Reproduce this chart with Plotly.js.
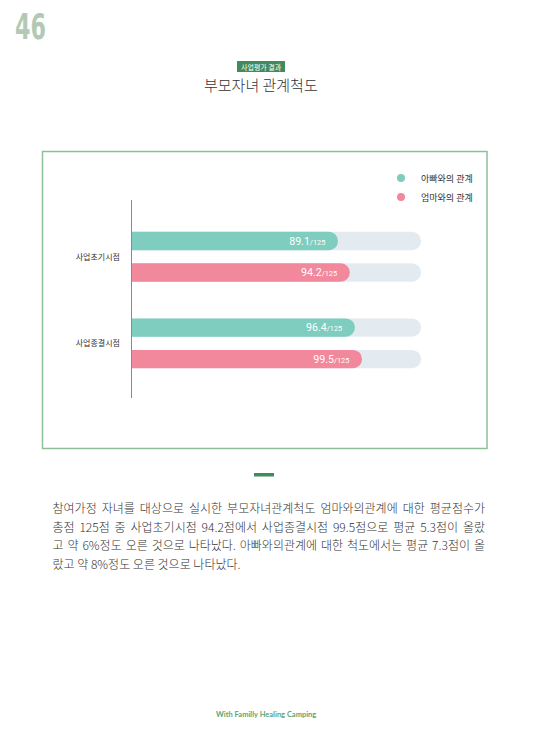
<!DOCTYPE html>
<html>
<head>
<meta charset="utf-8">
<script src="https://cdn.plot.ly/plotly-3.0.1.min.js"></script>
<style>
  html, body { margin: 0; padding: 0; background: #ffffff; }
  #chart { width: 533px; height: 746px; }
</style>
</head>
<body>
<div id="chart"></div>
<script>
// ---- data ----
const categories = ['사업초기시점', '사업종결시점'];
const seriesNames = ['아빠와의 관계', '엄마와의 관계'];
const dadValues = [89.1, 96.4];
const momValues = [94.2, 99.5];
const maxScore = 125;
const pageNumber = '46';
const sectionLabel = '사업평가 결과';
const chartTitle = '부모자녀 관계척도';
const paragraphLines = [
  '참여가정 자녀를 대상으로 실시한 부모자녀관계척도 엄마와의관계에 대한 평균점수가',
  '총점 125점 중 사업초기시점 94.2점에서 사업종결시점 99.5점으로 평균 5.3점이 올랐',
  '고 약 6%정도 오른 것으로 나타났다. 아빠와의관계에 대한 척도에서는 평균 7.3점이 올',
  '랐고 약 8%정도 오른 것으로 나타났다.'
];
const footerText = 'With Familly Healing Camping';

// ---- styling / geometry ----
const W = 533, H = 746, L = 132, R = 421, T = 200, B = 398;
function px(x) { return (x - L) / (R - L); }
function py(y) { return (B - y) / (B - T); }

const dadColor = '#7fcdbe', momColor = '#f2889b', trackColor = '#e3ebf1';
const green = '#3f8b5c';
const KR = '"Noto Sans CJK KR", "Noto Sans", sans-serif';
const barWidth = 0.211;
const dadOffset = -0.287, momOffset = 0.077;
const pad = 6; // hidden lead-in so the left rounded corners fall outside the plot clip

function labelText(v) {
  return v.toFixed(1) + '<span style="font-size:9px">/' + maxScore + '\u00a0\u00a0</span>';
}

const traces = [
  { type: 'bar', orientation: 'h', y: categories, x: categories.map(() => maxScore + pad), base: -pad,
    offset: dadOffset, width: barWidth, marker: { color: trackColor, cornerradius: '50%' },
    showlegend: false, hoverinfo: 'skip' },
  { type: 'bar', orientation: 'h', y: categories, x: categories.map(() => maxScore + pad), base: -pad,
    offset: momOffset, width: barWidth, marker: { color: trackColor, cornerradius: '50%' },
    showlegend: false, hoverinfo: 'skip' },
  { type: 'bar', orientation: 'h', y: categories, x: dadValues.map(v => v + pad), base: -pad,
    offset: dadOffset, width: barWidth, name: seriesNames[0],
    marker: { color: dadColor, cornerradius: '50%' },
    text: dadValues.map(labelText), textposition: 'inside', insidetextanchor: 'end',
    constraintext: 'none', textangle: 0,
    insidetextfont: { color: '#ffffff', size: 13, family: 'Roboto, sans-serif' },
    showlegend: false, hovertemplate: '%{y}: %{customdata}<extra></extra>', customdata: dadValues },
  { type: 'bar', orientation: 'h', y: categories, x: momValues.map(v => v + pad), base: -pad,
    offset: momOffset, width: barWidth, name: seriesNames[1],
    marker: { color: momColor, cornerradius: '50%' },
    text: momValues.map(labelText), textposition: 'inside', insidetextanchor: 'end',
    constraintext: 'none', textangle: 0,
    insidetextfont: { color: '#ffffff', size: 13, family: 'Roboto, sans-serif' },
    showlegend: false, hovertemplate: '%{y}: %{customdata}<extra></extra>', customdata: momValues },
  // legend entries (circle markers)
  { type: 'scatter', mode: 'markers', x: [null], y: [null], name: seriesNames[0],
    marker: { color: dadColor, size: 8, symbol: 'circle' }, hoverinfo: 'skip' },
  { type: 'scatter', mode: 'markers', x: [null], y: [null], name: seriesNames[1],
    marker: { color: momColor, size: 8, symbol: 'circle' }, hoverinfo: 'skip' }
];

const annotations = [
  { text: pageNumber, x: px(13), y: py(27), xanchor: 'left', yanchor: 'middle',
    font: { family: '"DejaVu Sans", sans-serif', size: 35, color: '#b3c9b6', weight: 'bold' } },
  { text: sectionLabel, x: px(261), y: py(66.5), xanchor: 'center', yanchor: 'middle',
    font: { family: KR, size: 7, color: '#ffffff' } },
  { text: chartTitle, x: px(260.5), y: py(85), xanchor: 'center', yanchor: 'middle',
    font: { family: KR, size: 15, color: '#333333', weight: 300 } },
  { text: footerText, x: px(265.5), y: py(714), xanchor: 'center', yanchor: 'middle',
    font: { family: 'Lato, "Open Sans", sans-serif', size: 7.5, color: '#5ea574', weight: 'bold' } }
];
const firstParaIndex = annotations.length;
const lineYs = [507, 526, 544.5, 563];
paragraphLines.forEach((t, i) => {
  annotations.push({ text: t, x: px(51), y: py(lineYs[i]), xanchor: 'left', yanchor: 'middle',
    font: { family: KR, size: 12, color: '#333333', weight: 300 } });
});
annotations.forEach(a => { a.xref = 'paper'; a.yref = 'paper'; a.showarrow = false; });

const shapes = [
  { type: 'rect', xref: 'paper', yref: 'paper', x0: px(42.5), x1: px(487), y0: py(151.5), y1: py(448.5),
    line: { color: '#8dbf9b', width: 1.5 }, fillcolor: 'rgba(0,0,0,0)', layer: 'below' },
  { type: 'rect', xref: 'paper', yref: 'paper', x0: px(237), x1: px(285), y0: py(61), y1: py(72),
    line: { width: 0 }, fillcolor: green, layer: 'below' },
  { type: 'rect', xref: 'paper', yref: 'paper', x0: px(254), x1: px(274), y0: py(473), y1: py(476.5),
    line: { width: 0 }, fillcolor: green, layer: 'below' }
];

const layout = {
  width: W, height: H,
  margin: { l: L, r: W - R, t: T, b: H - B, pad: 0 },
  paper_bgcolor: '#ffffff', plot_bgcolor: 'rgba(0,0,0,0)',
  barmode: 'overlay',
  font: { family: KR, color: '#333333' },
  xaxis: { range: [0, maxScore], visible: false, fixedrange: true },
  yaxis: { type: 'category', categoryarray: categories, range: [1.632, -0.655],
    showline: true, linecolor: '#8a8a8a', linewidth: 1.5, showgrid: false, zeroline: false,
    ticks: '', ticklabelstandoff: 9, tickfont: { family: KR, size: 8, color: '#333333' }, fixedrange: true },
  showlegend: true,
  legend: { x: px(381), y: py(163.5), xanchor: 'left', yanchor: 'top', bgcolor: 'rgba(0,0,0,0)',
    font: { family: KR, size: 9, color: '#333333' }, traceorder: 'normal' },
  annotations: annotations,
  shapes: shapes
};

Plotly.newPlot('chart', traces, layout, { displayModeBar: false, staticPlot: true }).then(gd => {
  // condense the page number horizontally to match the narrow display face
  const t = gd.querySelector('.annotation[data-index="0"] text');
  if (t) {
    const bb = t.getBBox();
    const target = 31;
    if (bb.width > target) {
      const s = target / bb.width;
      t.setAttribute('transform', 'translate(' + bb.x + ',0) scale(' + s + ',1) translate(' + (-bb.x) + ',0)');
    }
  }
  // justify the first three paragraph lines between the text margins (as in the source layout)
  const leftEdge = 52.5, rightEdge = 485;
  const hostLeft = gd.getBoundingClientRect().left;
  for (let i = 0; i < paragraphLines.length; i++) {
    const el = gd.querySelector('.annotation[data-index="' + (firstParaIndex + i) + '"] text');
    if (!el) continue;
    if (i < 3) {
      const w0 = el.getBoundingClientRect().width;
      const spaces = (paragraphLines[i].match(/ /g) || []).length;
      const extra = (rightEdge - leftEdge) - w0;
      if (spaces > 0 && extra > 0) el.style.wordSpacing = (extra / spaces) + 'px';
    }
    const r = el.getBoundingClientRect();
    const dx = leftEdge - (r.left - hostLeft);
    el.setAttribute('transform', 'translate(' + dx + ',0)');
  }
});
</script>
</body>
</html>
